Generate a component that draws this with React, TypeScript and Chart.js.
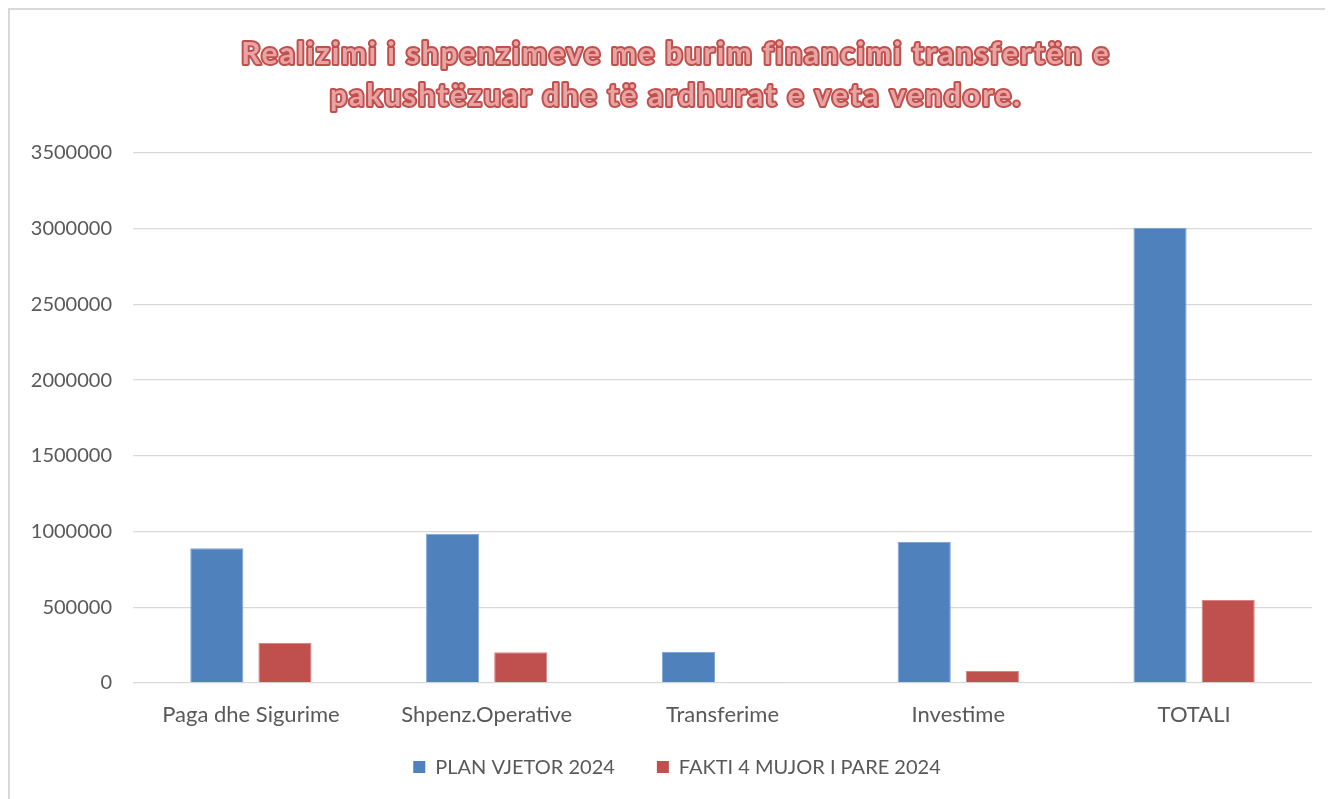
import React, { useEffect, useRef } from "react";
import { Chart, registerables } from "chart.js";

Chart.register(...registerables);

const titleLines = [
  "Realizimi i shpenzimeve me burim financimi transfertën e",
  "pakushtëzuar dhe të ardhurat e veta vendore.",
];
const categories = ["Paga dhe Sigurime", "Shpenz.Operative", "Transferime", "Investime", "TOTALI"];
const seriesNames = ["PLAN VJETOR 2024", "FAKTI 4 MUJOR I PARE 2024"];
const planValues = [890000, 986000, 205000, 931000, 3007000];
const faktiValues = [264000, 203000, 4000, 79000, 548000];
const yMax = 3500000;
const yStep = 500000;

const FONT = "Lato, 'Open Sans', sans-serif";
const TEXT_COLOR = "#595959";

const titlePlugin = {
  id: "wordartTitle",
  afterDraw(chart: any) {
    const ctx = chart.ctx;
    ctx.save();
    ctx.font = `bold 30px ${FONT}`;
    try {
      (ctx as any).letterSpacing = "2px";
    } catch (e) {}
    ctx.textAlign = "center";
    ctx.textBaseline = "alphabetic";
    ctx.lineJoin = "round";
    const cx = 666;
    const baselines = [54, 96];
    titleLines.forEach((line, i) => {
      ctx.lineWidth = 4;
      ctx.strokeStyle = "#C0504D";
      ctx.strokeText(line, cx, baselines[i]);
      ctx.fillStyle = "#E8A4A3";
      ctx.fillText(line, cx, baselines[i]);
    });
    ctx.restore();
  },
};

const legendPlugin = {
  id: "customLegend",
  afterDraw(chart: any) {
    const ctx = chart.ctx;
    const ds = chart.data.datasets;
    ctx.save();
    ctx.font = `20px ${FONT}`;
    ctx.textBaseline = "middle";
    ctx.textAlign = "left";
    const box = 12;
    const gap = 10;
    const spacing = 42;
    const widths = ds.map((d: any) => ctx.measureText(d.label).width);
    let total = 0;
    widths.forEach((w: number, i: number) => {
      total += box + gap + w + (i < widths.length - 1 ? spacing : 0);
    });
    let x = 667 - total / 2;
    const boxTop = 751;
    ds.forEach((d: any, i: number) => {
      ctx.fillStyle = d.backgroundColor;
      ctx.fillRect(x, boxTop, box, box);
      ctx.fillStyle = TEXT_COLOR;
      ctx.fillText(d.label, x + box + gap, boxTop + box / 2 + 1);
      x += box + gap + widths[i] + spacing;
    });
    ctx.restore();
  },
};

export default function App() {
  const canvasRef = useRef<HTMLCanvasElement | null>(null);

  useEffect(() => {
    if (!canvasRef.current) return;
    const chart = new Chart(canvasRef.current, {
      type: "bar",
      data: {
        labels: categories,
        datasets: [
          {
            label: seriesNames[0],
            data: planValues,
            backgroundColor: "#4F81BD",
            borderColor: "#7FA6D6",
            borderWidth: 1,
            categoryPercentage: 0.578,
            barPercentage: 0.78,
          },
          {
            label: seriesNames[1],
            data: faktiValues,
            backgroundColor: "#C0504D",
            borderColor: "#D88583",
            borderWidth: 1,
            categoryPercentage: 0.578,
            barPercentage: 0.78,
          },
        ],
      },
      options: {
        animation: false,
        responsive: true,
        maintainAspectRatio: false,
        layout: { padding: { top: 143, left: 0, right: 21, bottom: 58 } },
        plugins: {
          legend: { display: false },
          title: { display: false },
          tooltip: { enabled: false },
        },
        scales: {
          x: {
            grid: { display: false, drawTicks: false },
            border: { display: false },
            ticks: {
              color: TEXT_COLOR,
              font: { family: FONT, size: 22 },
              padding: 19,
              maxRotation: 0,
              autoSkip: false,
            },
            afterFit(scale: any) {
              scale.height = 58;
            },
          },
          y: {
            min: 0,
            max: yMax,
            grid: { color: "#D9D9D9", lineWidth: 1.3, drawTicks: false },
            border: { display: false },
            ticks: {
              stepSize: yStep,
              color: TEXT_COLOR,
              font: { family: FONT, size: 20 },
              padding: 21,
              callback: (v: any) => String(v),
            },
            afterFit(scale: any) {
              scale.width = 123;
            },
          },
        },
      },
      plugins: [titlePlugin, legendPlugin],
    });
    return () => chart.destroy();
  }, []);

  return (
    <div
      style={{
        position: "relative",
        width: 1325,
        height: 791,
        boxSizing: "border-box",
        borderTop: "2px solid #D9D9D9",
        borderLeft: "2px solid #D9D9D9",
        background: "#FFFFFF",
      }}
    >
      <canvas ref={canvasRef} />
    </div>
  );
}
